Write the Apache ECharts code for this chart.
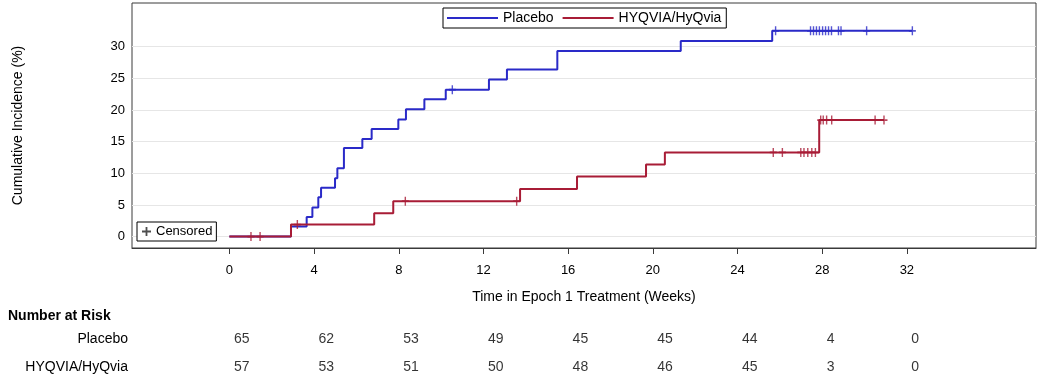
<!DOCTYPE html>
<html>
<head>
<meta charset="UTF-8">
<title>Cumulative Incidence</title>
<script src="https://cdn.jsdelivr.net/npm/echarts@6/dist/echarts.min.js"></script>
<style>
html, body { margin: 0; padding: 0; background: #fff; }
#main { width: 1042px; height: 377px; }
</style>
</head>
<body>
<div id="main"></div>
<script>
var weekTicks = [0, 4, 8, 12, 16, 20, 24, 28, 32];
var pctTicks = [0, 5, 10, 15, 20, 25, 30];
var groups = ['Placebo', 'HYQVIA/HyQvia'];

// step curves: [week, cumulative incidence %]
var placeboSteps = [[0, 0], [2.91, 1.6], [3.65, 3.1], [3.92, 4.6], [4.20, 6.2], [4.33, 7.7],
	[4.99, 9.2], [5.10, 10.8], [5.41, 14.0], [6.28, 15.4], [6.72, 17.0], [7.98, 18.5],
	[8.34, 20.1], [9.21, 21.7], [10.22, 23.2], [12.26, 24.8], [13.11, 26.4], [15.49, 29.3],
	[21.32, 30.9], [25.64, 32.5], [32.26, 32.5]];
var hyqviaSteps = [[0, 0], [2.91, 1.9], [6.84, 3.7], [7.74, 5.6], [13.73, 7.5], [16.42, 9.5],
	[19.68, 11.4], [20.57, 13.3], [27.86, 18.4], [30.92, 18.4]];

// censored observations: [week, level]
var placeboCensored = [[10.53, 23.2], [25.80, 32.5], [27.45, 32.5], [27.59, 32.5], [27.73, 32.5],
	[27.87, 32.5], [28.02, 32.5], [28.16, 32.5], [28.30, 32.5], [28.44, 32.5], [28.77, 32.5],
	[28.89, 32.5], [30.10, 32.5], [32.26, 32.5]];
var hyqviaCensored = [[1.02, 0], [1.45, 0], [3.21, 1.9], [8.31, 5.6], [13.57, 5.6], [25.69, 13.3],
	[26.12, 13.3], [26.99, 13.3], [27.14, 13.3], [27.32, 13.3], [27.51, 13.3], [27.68, 13.3],
	[27.93, 18.4], [28.05, 18.4], [28.21, 18.4], [28.45, 18.4], [30.50, 18.4], [30.92, 18.4]];

// number at risk at each week tick
var placeboRisk = [65, 62, 53, 49, 45, 45, 44, 4, 0];
var hyqviaRisk = [57, 53, 51, 50, 48, 46, 45, 3, 0];

var blue = '#2a2ac8';
var red = '#a81c36';
var font = 'Liberation Sans, Arial, sans-serif';
var plus = 'path://M4,0H6V4H10V6H6V10H4V6H0V4H4Z';

function riskData(name, vals){
	var out = [];
	for(var i = 0; i < weekTicks.length; i++){
		out.push([weekTicks[i], name, vals[i]]);
	}
	return out;
}

var chart = echarts.init(document.getElementById('main'));
chart.setOption({
	animation: false,
	textStyle: { fontFamily: font, color: '#000' },
	title: {
		text: 'Number at Risk', left: 3, top: 304,
		textStyle: { fontSize: 14, fontWeight: 'bold', color: '#000', fontFamily: font }
	},
	legend: [{
		data: [{ name: 'Placebo', icon: 'rect' }, { name: 'HYQVIA/HyQvia', icon: 'rect' }],
		left: 443, top: 8,
		itemWidth: 51, itemHeight: 2, itemGap: 9,
		padding: [3, 5, 3, 4],
		borderColor: '#000', borderWidth: 1, backgroundColor: '#fff',
		textStyle: { fontSize: 14, color: '#000' }
	}, {
		data: [{ name: 'Censored', icon: plus }],
		left: 137, top: 222,
		itemWidth: 9, itemHeight: 9,
		padding: [3, 4, 3, 5],
		borderColor: '#000', borderWidth: 1, backgroundColor: '#fff',
		textStyle: { fontSize: 13, color: '#000' }
	}],
	grid: [
		{ left: 132, top: 3, width: 904, height: 245, show: true, borderColor: '#3a3a3a', borderWidth: 1,
			outerBoundsMode: 'none' },
		{ left: 132, top: 325, width: 904, height: 56, outerBoundsMode: 'none' }
	],
	xAxis: [{
		type: 'value', gridIndex: 0, min: -4.6, max: 38.1,
		name: 'Time in Epoch 1 Treatment (Weeks)', nameLocation: 'middle', nameGap: 42,
		nameTextStyle: { fontSize: 14, color: '#000' },
		axisLine: { show: true, onZero: false, lineStyle: { color: '#3a3a3a' } },
		axisTick: { show: true, customValues: weekTicks, length: 6, lineStyle: { color: '#3a3a3a' } },
		axisLabel: { customValues: weekTicks, margin: 16, fontSize: 13, color: '#000' },
		splitLine: { show: false }
	}, {
		type: 'value', gridIndex: 1, min: -4.6, max: 38.1, show: false
	}],
	yAxis: [{
		type: 'value', gridIndex: 0, min: -1.8, max: 36.9,
		name: 'Cumulative Incidence (%)', nameLocation: 'middle', nameGap: 107,
		nameTextStyle: { fontSize: 14, color: '#000' },
		axisLine: { show: false },
		axisTick: { show: false, customValues: pctTicks },
		axisLabel: { customValues: pctTicks, margin: 7, fontSize: 13, color: '#000' },
		splitLine: { show: true, lineStyle: { color: '#e6e6e6', width: 1 } }
	}, {
		type: 'category', gridIndex: 1, data: groups, inverse: true,
		axisLine: { show: false }, axisTick: { show: false }, splitLine: { show: false },
		axisLabel: { margin: 4, fontSize: 14, color: '#000' }
	}],
	series: [{
		name: 'Placebo', type: 'line', step: 'end', data: placeboSteps,
		symbol: 'none', color: blue, lineStyle: { width: 2, color: blue }, z: 3
	}, {
		name: 'HYQVIA/HyQvia', type: 'line', step: 'end', data: hyqviaSteps,
		symbol: 'none', color: red, lineStyle: { width: 2, color: red }, z: 4
	}, {
		name: 'Placebo censored', type: 'scatter', data: placeboCensored,
		symbol: plus, symbolSize: [7, 9], itemStyle: { color: blue }, z: 5
	}, {
		name: 'HYQVIA censored', type: 'scatter', data: hyqviaCensored,
		symbol: plus, symbolSize: [7, 9], itemStyle: { color: red }, z: 5
	}, {
		name: 'Censored', type: 'scatter', data: [],
		symbol: plus, itemStyle: { color: '#222' }
	}, {
		name: 'risk placebo', type: 'scatter', xAxisIndex: 1, yAxisIndex: 1,
		data: riskData('Placebo', placeboRisk),
		symbolSize: 1, itemStyle: { color: 'transparent' },
		label: { show: true, position: 'right', distance: 4, fontSize: 14, color: '#000',
			formatter: function(p){ return p.value[2]; } }
	}, {
		name: 'risk hyqvia', type: 'scatter', xAxisIndex: 1, yAxisIndex: 1,
		data: riskData('HYQVIA/HyQvia', hyqviaRisk),
		symbolSize: 1, itemStyle: { color: 'transparent' },
		label: { show: true, position: 'right', distance: 4, fontSize: 14, color: '#000',
			formatter: function(p){ return p.value[2]; } }
	}]
});
</script>
</body>
</html>
